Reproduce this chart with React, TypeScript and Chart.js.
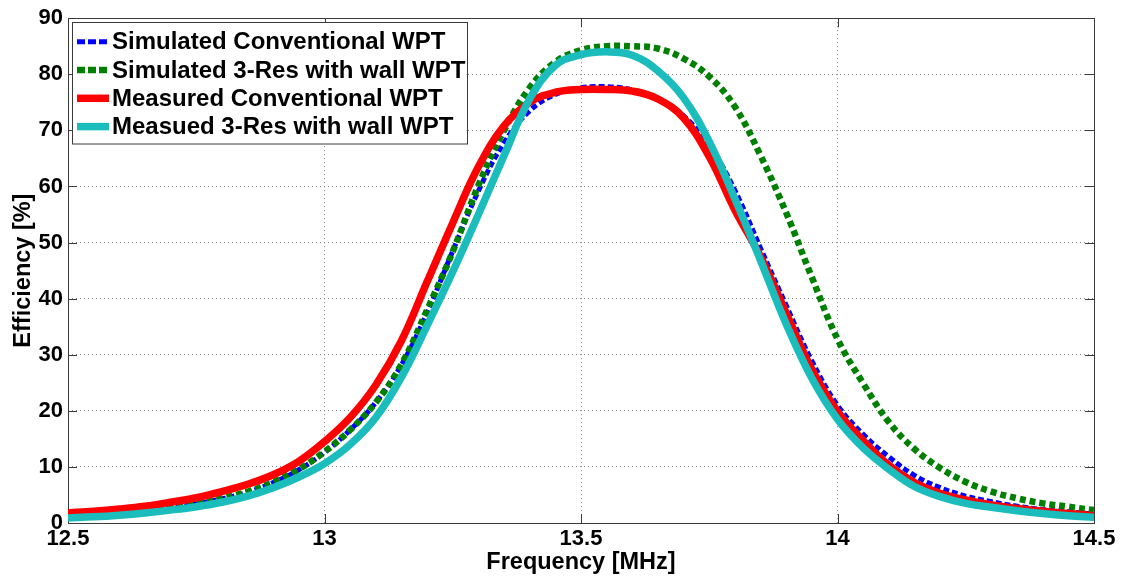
import React, { useEffect, useRef } from "react";
import { Chart, registerables } from "chart.js";
Chart.register(...registerables);

const freq = [12.5, 12.55, 12.6, 12.65, 12.7, 12.75, 12.8, 12.85, 12.9, 12.95, 13, 13.05, 13.1, 13.15, 13.2, 13.25, 13.3, 13.35, 13.4, 13.45, 13.5, 13.55, 13.6, 13.65, 13.7, 13.75, 13.8, 13.85, 13.9, 13.95, 14, 14.05, 14.1, 14.15, 14.2, 14.25, 14.3, 14.35, 14.4, 14.45, 14.5];

const simConv = [1.2, 1.4, 1.7, 2.1, 2.7, 3.4, 4.3, 5.5, 7.2, 9.5, 12.6, 16.6, 21.5, 28.2, 37.5, 48.5, 59.2, 67.8, 73.5, 76.4, 77.6, 77.8, 77.2, 75.6, 72.6, 67.3, 59.3, 49.0, 38.8, 28.9, 21.0, 15.8, 11.8, 8.5, 6.3, 4.8, 3.8, 3.0, 2.4, 2.0, 1.6];

const simWall = [1.2, 1.4, 1.7, 2.1, 2.7, 3.4, 4.4, 5.6, 7.3, 9.6, 12.7, 16.6, 21.5, 28.3, 38.0, 48.4, 60.2, 70.0, 77.6, 82.2, 84.3, 85.0, 85.0, 84.6, 82.8, 79.6, 74.2, 65.5, 55.3, 43.8, 32.8, 24.9, 18.0, 13.2, 9.8, 7.3, 5.6, 4.4, 3.5, 2.9, 2.3];

const measConv = [1.8, 2.1, 2.5, 3.0, 3.7, 4.5, 5.6, 6.9, 8.6, 11.0, 14.5, 18.8, 24.6, 32.5, 43.0, 53.5, 63.5, 70.8, 75.0, 76.8, 77.3, 77.3, 77.0, 75.6, 72.2, 65.3, 55.8, 47.5, 37.4, 27.4, 19.9, 14.7, 10.3, 7.2, 5.3, 4.1, 3.2, 2.6, 2.1, 1.7, 1.3];

const measWall = [0.9, 1.1, 1.4, 1.8, 2.3, 2.9, 3.7, 4.8, 6.3, 8.2, 10.6, 14.0, 18.8, 26.0, 35.2, 44.8, 55.0, 65.5, 75.6, 81.6, 83.5, 84.0, 83.4, 80.6, 75.8, 68.0, 57.8, 46.8, 35.5, 25.8, 18.5, 13.4, 9.6, 6.5, 4.7, 3.5, 2.8, 2.2, 1.7, 1.3, 1.0];

const xTicks = [12.5, 13, 13.5, 14, 14.5];
const yTicks = [0, 10, 20, 30, 40, 50, 60, 70, 80, 90];

const seriesLabels = [
  "Simulated Conventional WPT",
  "Simulated 3-Res with wall WPT",
  "Measured Conventional WPT",
  "Measued 3-Res with wall WPT",
];

const FONT = "'Liberation Sans', Arial, Helvetica, sans-serif";

const toPoints = (ys: number[]) => freq.map((x, i) => ({ x, y: ys[i] }));

export default function App() {
  const ref = useRef<HTMLCanvasElement | null>(null);

  useEffect(() => {
    document.body.style.margin = "0";
    const canvas = ref.current;
    if (!canvas) return;

    const framePlugin = {
      id: "matlabFrame",
      beforeDatasetsDraw(chart: any) {
        const { ctx, chartArea } = chart;
        const { left, right, top, bottom } = chartArea;
        const xs = chart.scales.x;
        const ys = chart.scales.y;
        ctx.save();
        ctx.strokeStyle = "#3a3a3a";
        ctx.lineWidth = 1;
        ctx.setLineDash([]);
        ctx.beginPath();
        const tl = 9;
        xTicks.forEach((v) => {
          const px = Math.round(xs.getPixelForValue(v)) + 0.5;
          ctx.moveTo(px, bottom);
          ctx.lineTo(px, bottom - tl);
          ctx.moveTo(px, top);
          ctx.lineTo(px, top + tl);
        });
        yTicks.forEach((v) => {
          const py = Math.round(ys.getPixelForValue(v)) + 0.5;
          ctx.moveTo(left, py);
          ctx.lineTo(left + tl, py);
          ctx.moveTo(right, py);
          ctx.lineTo(right - tl, py);
        });
        ctx.stroke();
        ctx.strokeRect(Math.round(left) + 0.5, Math.round(top) + 0.5, Math.round(right - left), Math.round(bottom - top));
        ctx.restore();
      },
      afterDraw(chart: any) {
        const ctx = chart.ctx;
        ctx.save();
        const bx = 72.5, by = 22.5, bw = 395, bh = 121.5;
        ctx.fillStyle = "#ffffff";
        ctx.fillRect(bx, by, bw, bh);
        ctx.strokeStyle = "#3a3a3a";
        ctx.lineWidth = 1;
        ctx.setLineDash([]);
        ctx.strokeRect(bx, by, bw, bh);
        chart.data.datasets.forEach((ds: any, i: number) => {
          const y = 41.7 + i * 28.3;
          ctx.strokeStyle = ds.borderColor;
          ctx.lineWidth = ds.borderWidth;
          ctx.lineCap = "butt";
          ctx.setLineDash(ds.borderDash && ds.borderDash.length ? [8, 3] : []);
          ctx.beginPath();
          ctx.moveTo(77, y);
          ctx.lineTo(109, y);
          ctx.stroke();
          ctx.setLineDash([]);
          ctx.fillStyle = "#000000";
          ctx.font = `bold 24px ${FONT}`;
          ctx.textBaseline = "middle";
          ctx.textAlign = "left";
          ctx.fillText(ds.label, 112, y + 1);
        });
        ctx.restore();
      },
    };

    const tickFont = { family: FONT, size: 22, weight: "bold" as const };
    const titleFont = { family: FONT, size: 23.5, weight: "bold" as const };

    const chart = new Chart(canvas, {
      type: "line",
      data: {
        datasets: [
          {
            label: seriesLabels[0],
            data: toPoints(simConv),
            borderColor: "#0000ff",
            borderWidth: 5,
            borderDash: [6, 3],
            order: 4,
          },
          {
            label: seriesLabels[1],
            data: toPoints(simWall),
            borderColor: "#008000",
            borderWidth: 6.5,
            borderDash: [6, 4],
            order: 3,
          },
          {
            label: seriesLabels[2],
            data: toPoints(measConv),
            borderColor: "#ff0000",
            borderWidth: 7.5,
            order: 2,
          },
          {
            label: seriesLabels[3],
            data: toPoints(measWall),
            borderColor: "#1bbcbc",
            borderWidth: 7.5,
            order: 1,
          },
        ] as any,
      },
      options: {
        responsive: false,
        animation: false,
        devicePixelRatio: 1,
        layout: { padding: { left: 0, top: 16, right: 35, bottom: 0 } },
        elements: {
          point: { radius: 0, hoverRadius: 0 },
          line: { tension: 0.4, fill: false, borderCapStyle: "butt", borderJoinStyle: "round" },
        },
        plugins: {
          legend: { display: false },
          tooltip: { enabled: false },
        },
        events: [],
        scales: {
          x: {
            type: "linear",
            min: 12.5,
            max: 14.5,
            afterBuildTicks: (s: any) => {
              s.ticks = xTicks.map((v) => ({ value: v }));
            },
            afterFit: (s: any) => {
              s.height = 55;
            },
            ticks: {
              font: tickFont,
              color: "#000000",
              padding: 3,
              maxRotation: 0,
              autoSkip: false,
              callback: (v: any) => String(v),
            },
            grid: { color: "rgba(110,110,110,0.85)", lineWidth: 1, drawTicks: false },
            border: { display: false, dash: [1, 3] },
            title: {
              display: true,
              text: "Frequency [MHz]",
              font: titleFont,
              color: "#000000",
              padding: { top: 0, bottom: 1 },
            },
          },
          y: {
            type: "linear",
            min: 0,
            max: 90,
            afterBuildTicks: (s: any) => {
              s.ticks = yTicks.map((v) => ({ value: v }));
            },
            afterFit: (s: any) => {
              s.width = 68;
            },
            ticks: {
              font: tickFont,
              color: "#000000",
              padding: 5,
              autoSkip: false,
              callback: (v: any) => String(v),
            },
            grid: { color: "rgba(110,110,110,0.85)", lineWidth: 1, drawTicks: false },
            border: { display: false, dash: [1, 3] },
            title: {
              display: true,
              text: "Efficiency [%]",
              font: titleFont,
              color: "#000000",
              padding: { top: 9, bottom: 0 },
            },
          },
        },
      } as any,
      plugins: [framePlugin],
    });

    return () => chart.destroy();
  }, []);

  return (
    <div style={{ width: 1129, height: 578, background: "#ffffff" }}>
      <canvas ref={ref} width={1129} height={578} style={{ display: "block" }} />
    </div>
  );
}
